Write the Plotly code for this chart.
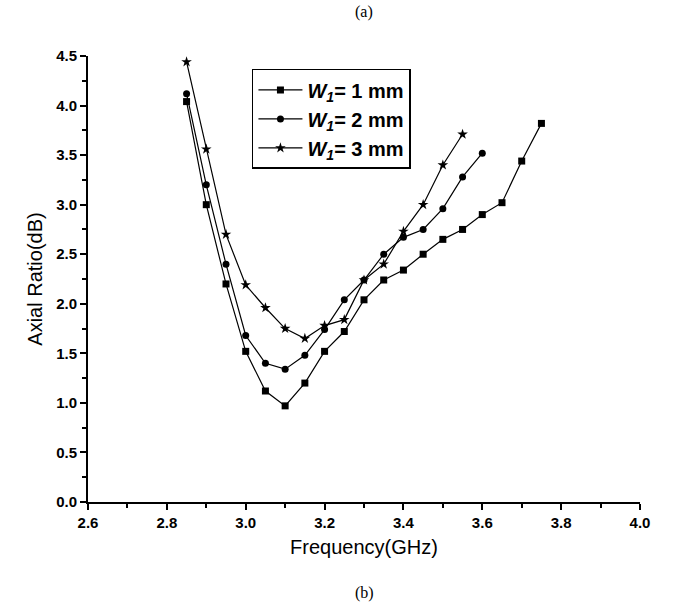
import plotly.graph_objects as go

freq_1mm = [2.85, 2.9, 2.95, 3.0, 3.05, 3.1, 3.15, 3.2, 3.25, 3.3, 3.35, 3.4,
            3.45, 3.5, 3.55, 3.6, 3.65, 3.7, 3.75]
ar_1mm = [4.04, 3.00, 2.20, 1.52, 1.12, 0.97, 1.20, 1.52, 1.72, 2.04, 2.24, 2.34,
          2.50, 2.65, 2.75, 2.90, 3.02, 3.44, 3.82]

freq_2mm = [2.85, 2.9, 2.95, 3.0, 3.05, 3.1, 3.15, 3.2, 3.25, 3.3, 3.35, 3.4,
            3.45, 3.5, 3.55, 3.6]
ar_2mm = [4.12, 3.20, 2.40, 1.68, 1.40, 1.34, 1.48, 1.74, 2.04, 2.24, 2.50, 2.67,
          2.75, 2.96, 3.28, 3.52]

freq_3mm = [2.85, 2.9, 2.95, 3.0, 3.05, 3.1, 3.15, 3.2, 3.25, 3.3, 3.35, 3.4,
            3.45, 3.5, 3.55]
ar_3mm = [4.44, 3.56, 2.70, 2.19, 1.96, 1.75, 1.65, 1.78, 1.84, 2.24, 2.40, 2.73,
          3.00, 3.40, 3.71]

labels = ["<i>W</i><sub><i>1</i></sub>= 1 mm",
          "<i>W</i><sub><i>1</i></sub>= 2 mm",
          "<i>W</i><sub><i>1</i></sub>= 3 mm"]

SANS = "Liberation Sans"
SERIF = "Liberation Serif"

fig = go.Figure()
series = [
    (freq_1mm, ar_1mm, "square", 7),
    (freq_2mm, ar_2mm, "circle", 7),
    (freq_3mm, ar_3mm, "star", 8),
]
for (fx, fy, sym, sz), name in zip(series, labels):
    fig.add_trace(go.Scatter(
        x=fx, y=fy, name=name, mode="lines+markers",
        line=dict(color="black", width=1.2),
        marker=dict(symbol=sym, size=sz, color="black"),
    ))

axis_font = dict(family=SANS, size=15, color="black", weight="bold")
title_font = dict(family=SANS, size=20, color="black")

fig.update_layout(
    width=676, height=609,
    margin=dict(l=88, r=36, t=56, b=107),
    plot_bgcolor="white", paper_bgcolor="white",
    showlegend=True,
    legend=dict(
        x=0.297, y=0.971, xanchor="left", yanchor="top",
        bordercolor="black", borderwidth=1.5, bgcolor="white",
        font=dict(family=SANS, size=20, color="black", weight="bold"),
        tracegroupgap=2, itemwidth=44,
    ),
    xaxis=dict(
        range=[2.6, 4.0], dtick=0.2, tickformat=".1f",
        showgrid=False, zeroline=False,
        showline=True, linecolor="black", linewidth=2,
        ticks="outside", ticklen=6, tickwidth=2, tickcolor="black",
        minor=dict(dtick=0.1, ticks="outside", ticklen=4, tickwidth=2, tickcolor="black"),
        tickfont=axis_font,
        title=dict(text="Frequency(GHz)", font=title_font, standoff=10),
    ),
    yaxis=dict(
        range=[0, 4.5], dtick=0.5, tickformat=".1f",
        showgrid=False, zeroline=False,
        showline=True, linecolor="black", linewidth=2,
        ticks="outside", ticklen=6, tickwidth=2, tickcolor="black",
        minor=dict(dtick=0.25, ticks="outside", ticklen=4, tickwidth=2, tickcolor="black"),
        tickfont=axis_font,
        title=dict(text="Axial Ratio(dB)", font=title_font, standoff=8),
    ),
    annotations=[
        dict(text="(a)", x=0.5, y=1.0, xref="paper", yref="paper", showarrow=False,
             yanchor="bottom", yshift=33,
             font=dict(family=SERIF, size=16, color="black")),
        dict(text="(b)", x=0.5, y=0.0, xref="paper", yref="paper", showarrow=False,
             yanchor="top", yshift=-80,
             font=dict(family=SERIF, size=16, color="black")),
    ],
)

fig.write_html("out.html", config={"displayModeBar": False},
               post_script="document.body.style.margin='0';")
